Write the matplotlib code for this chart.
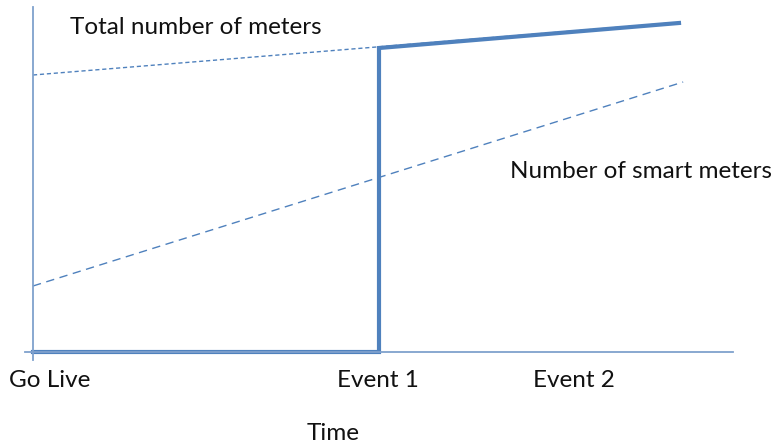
import matplotlib.pyplot as plt

plt.rcParams['font.family'] = ['Lato', 'DejaVu Sans']

# x positions in "event units": Go Live = 0, Event 1 = 1
total_x = [0, 1.879]
total_y = [2.77, 3.30]
smart_x = [0, 1.879]
smart_y = [0.66, 2.70]
step_x = [0, 1, 1, 1.867]
step_y = [0, 0, 3.04, 3.29]

tick_pos = [0.049, 0.997, 1.562]
tick_labels = ['Go Live', 'Event 1', 'Event 2']

blue = '#4F81BD'
axis_blue = '#7FA1CD'
fs = 17.5

fig = plt.figure(figsize=(7.8, 4.46), dpi=100)
ax = fig.add_axes([25 / 780, 86 / 446, 708 / 780, 353 / 446])

ax.plot(total_x, total_y, color=blue, lw=1.0, ls=(0, (3, 2)))
ax.plot(smart_x, smart_y, color=blue, lw=1.0, ls=(0, (6, 4)))
ax.plot(step_x, step_y, color=blue, lw=3.0, solid_joinstyle='miter')

ax.set_xlim(-0.0231, 2.0231)
ax.set_ylim(-0.08, 3.45)

for s in ['top', 'right']:
    ax.spines[s].set_visible(False)
ax.spines['left'].set_position(('data', 0))
ax.spines['bottom'].set_position(('data', 0))
for s in ['left', 'bottom']:
    ax.spines[s].set_color(axis_blue)
    ax.spines[s].set_linewidth(1.3)

ax.set_yticks([])
ax.set_xticks(tick_pos)
ax.set_xticklabels(tick_labels, fontsize=fs, color='#111111')
ax.tick_params(axis='x', length=0, pad=13)

ax.text(0.107, 3.24, 'Total number of meters', fontsize=fs, va='center', ha='left', color='#111111')
ax.text(1.378, 1.80, 'Number of smart meters', fontsize=fs, va='center', ha='left', color='#111111')
fig.text(333 / 780, 1 - 433 / 446, 'Time', fontsize=fs, ha='center', va='center', color='#111111')

fig.savefig('out.png')
